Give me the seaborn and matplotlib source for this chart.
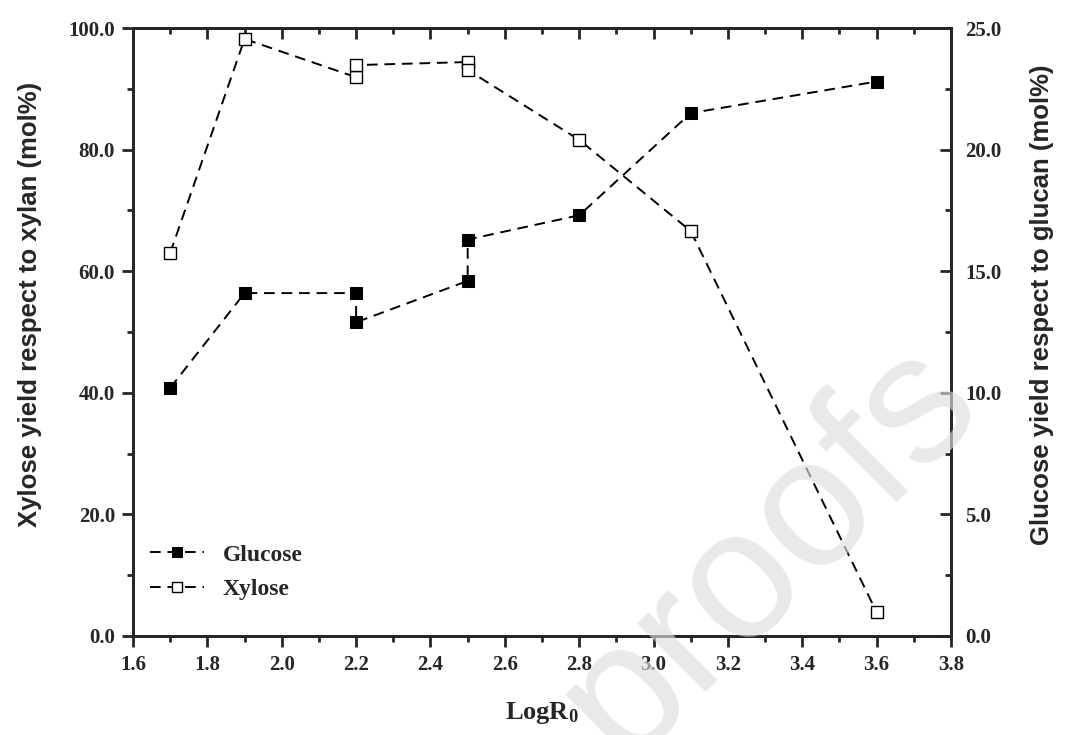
import numpy as np
import pandas as pd
import matplotlib
matplotlib.use("Agg")
import matplotlib.pyplot as plt
import seaborn as sns
from matplotlib.ticker import MultipleLocator, FormatStrFormatter

# points in the order they are joined (two runs at 2.2 and 2.5)
xylose_x = [1.7, 1.9, 2.2, 2.2, 2.5, 2.5, 2.8, 3.1, 3.6]
xylose = [63.0, 98.2, 91.9, 93.9, 94.4, 93.1, 81.6, 66.6, 3.9]
glucose_x = [1.7, 1.9, 2.2, 2.2, 2.5, 2.5, 2.8, 3.1, 3.6]
glucose = [10.2, 14.1, 14.1, 12.9, 14.6, 16.3, 17.3, 21.5, 22.8]

sns.set_style("ticks")
plt.rcParams["font.family"] = ["Liberation Serif", "DejaVu Serif"]
plt.rcParams["font.weight"] = "bold"
plt.rcParams["mathtext.default"] = "regular"
plt.rcParams["axes.linewidth"] = 2.0

df_x = pd.DataFrame({"LogR0": xylose_x, "yield": xylose})
df_g = pd.DataFrame({"LogR0": glucose_x, "yield": glucose})

fig = plt.figure(figsize=(10.65, 7.35), dpi=100)
ax = fig.add_axes([0.1249, 0.1347, 0.893 - 0.1249, 0.9619 - 0.1347])
ax2 = ax.twinx()

dash = (0, (5.5, 3.5))
sns.lineplot(ax=ax, data=df_x, x="LogR0", y="yield", sort=False, estimator=None,
             color="black", linestyle=dash, linewidth=1.4, marker="s", markersize=9,
             markerfacecolor="white", markeredgecolor="black", markeredgewidth=1.0,
             label="Xylose", legend=False)
sns.lineplot(ax=ax2, data=df_g, x="LogR0", y="yield", sort=False, estimator=None,
             color="black", linestyle=dash, linewidth=1.4, marker="s", markersize=9,
             markerfacecolor="black", markeredgecolor="black",
             label="Glucose", legend=False)

ax.set_xlim(1.6, 3.8)
ax.set_ylim(0, 100)
ax2.set_ylim(0, 25)

ax.xaxis.set_major_locator(MultipleLocator(0.2))
ax.xaxis.set_minor_locator(MultipleLocator(0.1))
ax.xaxis.set_major_formatter(FormatStrFormatter("%.1f"))
ax.yaxis.set_major_locator(MultipleLocator(20))
ax.yaxis.set_minor_locator(MultipleLocator(10))
ax.yaxis.set_major_formatter(FormatStrFormatter("%.1f"))
ax2.yaxis.set_major_locator(MultipleLocator(5))
ax2.yaxis.set_minor_locator(MultipleLocator(2.5))
ax2.yaxis.set_major_formatter(FormatStrFormatter("%.1f"))

ax.tick_params(axis="both", which="major", direction="out", length=8, width=2,
               labelsize=15, right=False, top=False)
ax.tick_params(axis="x", which="major", pad=6)
ax.tick_params(axis="y", which="major", pad=5)
ax.tick_params(axis="both", which="minor", direction="out", length=4.5, width=2,
               right=False, top=False)
ax2.tick_params(axis="y", which="major", direction="in", length=8, width=2,
                labelsize=15, pad=10)
ax2.tick_params(axis="y", which="minor", direction="in", length=4.5, width=2)

top = ax.secondary_xaxis("top")
top.xaxis.set_major_locator(MultipleLocator(0.2))
top.xaxis.set_minor_locator(MultipleLocator(0.1))
top.tick_params(which="major", direction="in", length=8, width=2, labeltop=False)
top.tick_params(which="minor", direction="in", length=4.5, width=2)

sans = ["Liberation Sans", "DejaVu Sans"]
ax.set_xlabel("LogR$_0$", fontsize=19, fontweight="bold")
ax.xaxis.set_label_coords(0.5, -0.105)
ax.set_ylabel("Xylose yield respect to xylan (mol%)", fontsize=18.5,
              fontweight="bold", family=sans)
ax.yaxis.set_label_coords(-0.111, 0.545)
ax2.set_ylabel("Glucose yield respect to glucan (mol%)", fontsize=18.5,
               fontweight="bold", family=sans)
ax2.yaxis.set_label_coords(1.097, 0.545)

h1, l1 = ax.get_legend_handles_labels()
h2, l2 = ax2.get_legend_handles_labels()
ax2.legend(h2 + h1, l2 + l1, loc="center left", bbox_to_anchor=(0.0, 0.105),
           frameon=False, handlelength=2.3, handletextpad=0.8, labelspacing=0.55,
           borderaxespad=0.3,
           prop={"family": "Liberation Serif", "weight": "bold", "size": 17},
           markerscale=0.8)

fig.text(0.722, 0.252, "proofs", fontsize=132, family=sans, fontweight="normal",
         color="#dddddd", alpha=0.65, rotation=45, ha="center", va="center", zorder=10)

fig.savefig("out.png", dpi=100)
